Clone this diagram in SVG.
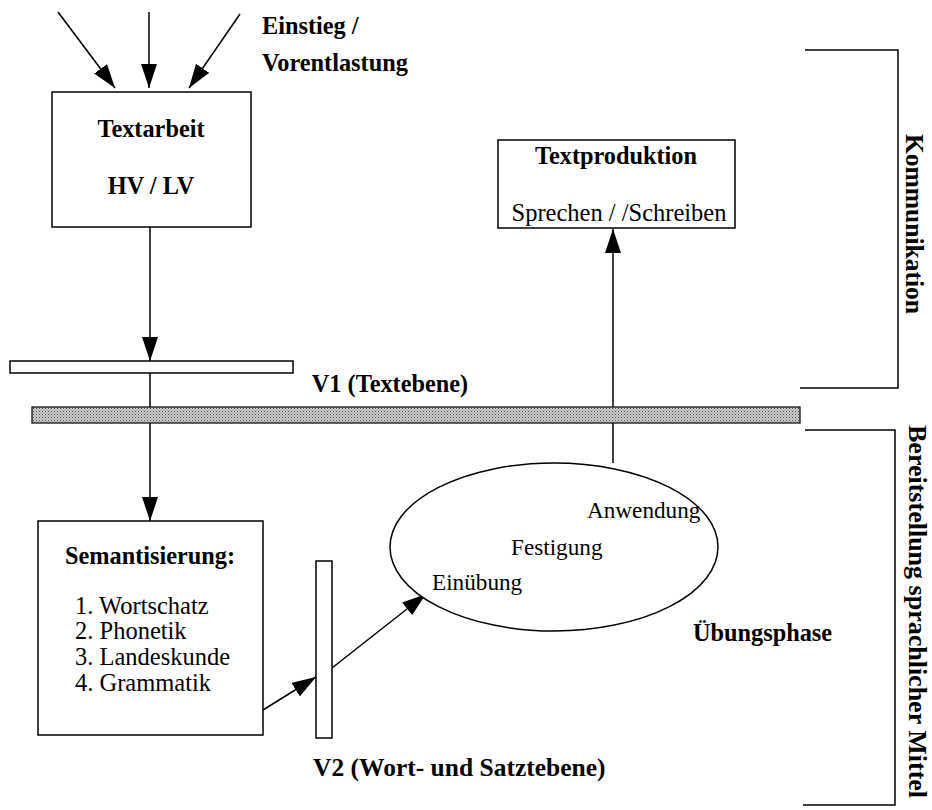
<svg xmlns="http://www.w3.org/2000/svg" width="932" height="810" viewBox="0 0 932 810">
<defs>
<marker id="ah" markerUnits="userSpaceOnUse" markerWidth="26" markerHeight="16" refX="24" refY="8" orient="auto">
<path d="M0,0 L24,8 L0,16 Z" fill="#000"/>
</marker>
<pattern id="dots" width="3" height="3" patternUnits="userSpaceOnUse">
<rect width="3" height="3" fill="#d0d0d0"/>
<rect width="1" height="1" fill="#444"/>
<rect x="1.5" y="1.5" width="1" height="1" fill="#666"/>
</pattern>
<style>
text{font-family:"Liberation Serif","Times New Roman",serif;font-size:24.5px;fill:#000}
.b{font-weight:bold;font-size:24.3px}
.e{font-size:23.2px}
.box{fill:#fff;stroke:#000;stroke-width:1.5}
.ln{stroke:#000;stroke-width:1.5;fill:none}
</style>
</defs>
<g id="connectors">
<line class="ln" x1="58" y1="12" x2="115" y2="88" marker-end="url(#ah)"/>
<line class="ln" x1="149" y1="12" x2="149" y2="88" marker-end="url(#ah)"/>
<line class="ln" x1="240" y1="14" x2="189" y2="88" marker-end="url(#ah)"/>
<line class="ln" x1="150" y1="227" x2="150" y2="361" marker-end="url(#ah)"/>
<line class="ln" x1="150" y1="373" x2="150" y2="521" marker-end="url(#ah)"/>
<line class="ln" x1="613" y1="463" x2="613" y2="229" marker-end="url(#ah)"/>
<line class="ln" x1="263" y1="710" x2="316" y2="677" marker-end="url(#ah)"/>
<line class="ln" x1="332" y1="668" x2="426" y2="594" marker-end="url(#ah)"/>
</g>
<g id="einstieg">
<text class="b" x="262" y="34">Einstieg /</text>
<text class="b" x="262" y="71">Vorentlastung</text>
</g>
<g id="textarbeit">
<rect class="box" x="52" y="92" width="199" height="135"/>
<text class="b" x="151" y="137" text-anchor="middle">Textarbeit</text>
<text class="b" x="151" y="194" text-anchor="middle">HV / LV</text>
</g>
<g id="textproduktion">
<rect class="box" x="498" y="140" width="237" height="88"/>
<text class="b" x="616" y="164" text-anchor="middle">Textproduktion</text>
<text x="619" y="221" text-anchor="middle">Sprechen / /Schreiben</text>
</g>
<g id="v1bar">
<rect class="box" x="10" y="361" width="283" height="12" stroke-width="1.2"/>
</g>
<g id="v1label">
<text class="b" x="390" y="392" text-anchor="middle">V1 (Textebene)</text>
</g>
<g id="graybar">
<rect x="32" y="407" width="768" height="16" fill="url(#dots)" stroke="#000" stroke-width="1.2"/>
</g>
<g id="semantisierung">
<rect class="box" x="38" y="521" width="225" height="214"/>
<text class="b" x="150" y="564" text-anchor="middle">Semantisierung:</text>
<text x="75" y="614">1. Wortschatz</text>
<text x="75" y="639">2. Phonetik</text>
<text x="75" y="665">3. Landeskunde</text>
<text x="75" y="691">4. Grammatik</text>
</g>
<g id="v2bar">
<rect class="box" x="316" y="561" width="16" height="177" stroke-width="1.2"/>
</g>
<g id="v2label">
<text class="b" x="313" y="776" style="font-size:25.5px">V2 (Wort- und Satztebene)</text>
</g>
<g id="uebungsphase">
<ellipse cx="554" cy="547" rx="164" ry="84" fill="#fff" stroke="#000" stroke-width="1.5"/>
<text class="e" x="587" y="518">Anwendung</text>
<text class="e" x="511" y="555">Festigung</text>
<text class="e" x="432" y="590">Einübung</text>
<text class="b" x="693" y="641">Übungsphase</text>
</g>
<g id="kommunikation">
<polyline class="ln" points="805,50 898,50 898,388 800,388"/>
<text class="b" style="font-size:25.5px" transform="translate(906,224) rotate(90)" text-anchor="middle">Kommunikation</text>
</g>
<g id="bereitstellung">
<polyline class="ln" points="805,430 895,430 895,805 803,805"/>
<text class="b" style="font-size:26px" transform="translate(909,425) rotate(90)">Bereitstellung sprachlicher Mittel</text>
</g>
</svg>
